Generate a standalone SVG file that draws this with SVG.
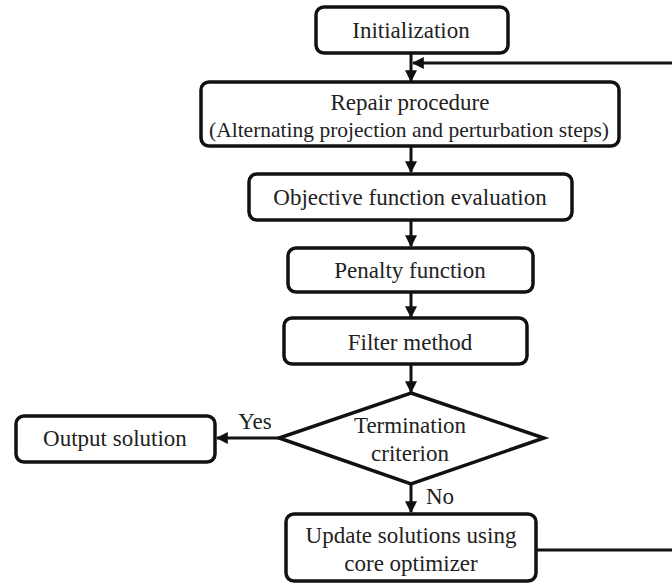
<svg xmlns="http://www.w3.org/2000/svg" width="672" height="586" viewBox="0 0 672 586">
<style>
.box{fill:#fff;stroke:#111;stroke-width:3.5}
.t{font-family:"Liberation Serif","Times New Roman",serif;font-size:23px;fill:#222;text-anchor:middle}
.s{font-size:21.5px}
.c{fill:none;stroke:#111;stroke-width:3}
</style>
<defs>
<marker id="ah" viewBox="0 0 10 10" refX="9" refY="5" markerWidth="4" markerHeight="4" orient="auto" markerUnits="strokeWidth">
<path d="M0,0 L10,5 L0,10 z" fill="#111"/>
</marker>
</defs>
<rect width="672" height="586" fill="#fff"/>
<g id="connectors">
<path class="c" d="M411,53 V81" marker-end="url(#ah)"/>
<path class="c" d="M536,550 H690 V63 H413" marker-end="url(#ah)"/>
<path class="c" d="M411,146 V172" marker-end="url(#ah)"/>
<path class="c" d="M411,220 V246" marker-end="url(#ah)"/>
<path class="c" d="M411,292 V317" marker-end="url(#ah)"/>
<path class="c" d="M411,364 V392" marker-end="url(#ah)"/>
<path class="c" d="M279,438 H217" marker-end="url(#ah)"/>
<path class="c" d="M411,484 V512" marker-end="url(#ah)"/>
<text class="t" x="255" y="429">Yes</text>
<text class="t" x="440" y="504">No</text>
</g>
<g id="init">
<rect class="box" x="316" y="7" width="192" height="46" rx="8"/>
<text class="t" x="411" y="38">Initialization</text>
</g>
<g id="repair">
<rect class="box" x="201" y="82" width="418" height="64" rx="8"/>
<text class="t" x="410" y="110">Repair procedure</text>
<text class="t s" x="409" y="137">(Alternating projection and perturbation steps)</text>
</g>
<g id="objective">
<rect class="box" x="249" y="174" width="323" height="46" rx="8"/>
<text class="t" x="410" y="205">Objective function evaluation</text>
</g>
<g id="penalty">
<rect class="box" x="288" y="248" width="245" height="44" rx="8"/>
<text class="t" x="410" y="278">Penalty function</text>
</g>
<g id="filter">
<rect class="box" x="284" y="318" width="243" height="46" rx="8"/>
<text class="t" x="410" y="350">Filter method</text>
</g>
<g id="termination">
<polygon class="box" points="411,393 544,438 411,484 279,438"/>
<text class="t" x="410" y="433">Termination</text>
<text class="t" x="410" y="461">criterion</text>
</g>
<g id="output">
<rect class="box" x="16" y="416" width="199" height="46" rx="8"/>
<text class="t" x="115" y="446">Output solution</text>
</g>
<g id="update">
<rect class="box" x="286" y="514" width="250" height="67" rx="8"/>
<text class="t" x="411" y="543">Update solutions using</text>
<text class="t" x="411" y="571">core optimizer</text>
</g>
</svg>
